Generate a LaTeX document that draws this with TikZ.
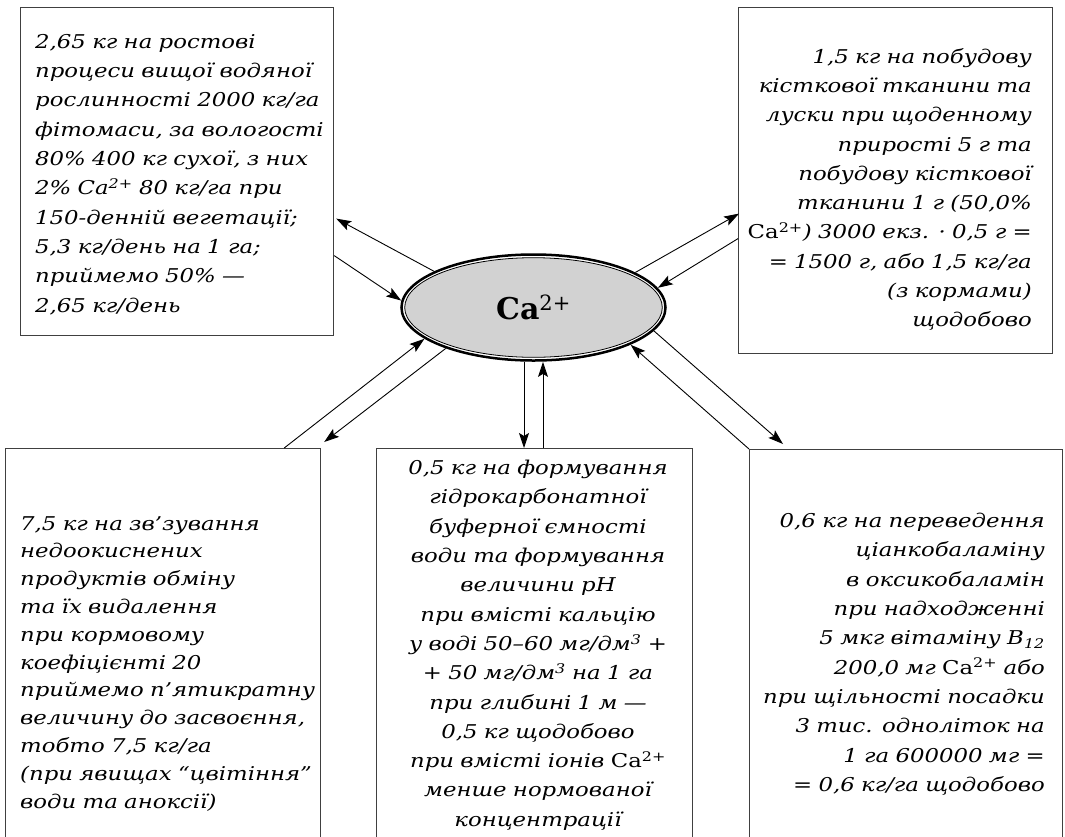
\documentclass[tikz,border=0pt]{standalone}
\usepackage{fontspec}
\setmainfont{DejaVu Serif}
\newfontfamily\boxfont{DejaVu Serif}[FakeStretch=1.2]
\usetikzlibrary{arrows.meta,shapes.geometric,calc}
\tikzset{
  box/.style={draw=black!75, line width=1.2pt, rectangle, inner sep=0pt, anchor=north west},
  txt/.style={inner sep=0pt, text width=330pt, font=\boxfont\itshape\fontsize{19}{29.3}\selectfont},
  arr/.style={-{Stealth[length=15pt,width=10pt,inset=3pt]}, line width=0.9pt},
  ion/.style={ellipse, draw=black, line width=0.8pt, fill=gray!35, inner sep=0pt, outer sep=4.6pt,
    minimum width=257.6pt, minimum height=99.6pt, font=\fontsize{30}{36}\selectfont}
}
\begin{document}
\begin{tikzpicture}[x=1pt,y=-1pt]
\useasboundingbox (0,0) rectangle (1065,836);
% boxes
\node[box, minimum width=313pt, minimum height=328pt] (tl) at (20,7) {};
\node[box, minimum width=314pt, minimum height=346pt] (tr) at (738,7) {};
\node[box, minimum width=315pt, minimum height=420pt] (bl) at (5,448) {};
\node[box, minimum width=316pt, minimum height=420pt] (bm) at (376,448) {};
\node[box, minimum width=313pt, minimum height=420pt] (br) at (749,449) {};
% central ellipse
\coordinate (cac) at (533.5,307.5);
\draw[line width=2.5pt, fill=white] (cac) ellipse [x radius=132, y radius=53];
\node[ion] (ca) at (cac) {\textbf{Ca}\textsuperscript{2+}};
% texts
\node[txt, anchor=north west, align=left] (tltext) at (35,34) {2,65 кг на ростові\\
процеси вищої водяної\\
рослинності 2000 кг/га\\
фітомаси, за вологості\\
80\% 400 кг сухої, з них\\
2\% Ca\textsuperscript{2+} 80 кг/га при\\
150-денній вегетації;\\
5,3 кг/день на 1 га;\\
приймемо 50\% —\\
2,65 кг/день};
\node[txt, anchor=north east, align=right] (trtext) at (1032,48) {1,5 кг на побудову\\
кісткової тканини та\\
луски при щоденному\\
прирості 5 г та\\
побудову кісткової\\
тканини 1 г (50,0\%\\
\textup{Ca\textsuperscript{2+}}) 3000 екз. · 0,5 г =\\
= 1500 г, або 1,5 кг/га\\
(з кормами)\\
щодобово};
\node[txt, anchor=north west, align=left, font=\boxfont\itshape\fontsize{19}{27.8}\selectfont] (bltext) at (20,516) {7,5 кг на зв’зування\\
недоокиснених\\
продуктів обміну\\
та їх видалення\\
при кормовому\\
коефіцієнті 20\\
приймемо п’ятикратну\\
величину до засвоєння,\\
тобто 7,5 кг/га\\
(при явищах “цвітіння”\\
води та аноксії)};
\node[txt, anchor=north, align=center] (bmtext) at (538,460) {0,5 кг на формування\\
гідрокарбонатної\\
буферної ємності\\
води та формування\\
величини pH\\
при вмісті кальцію\\
у воді 50–60 мг/дм\textsuperscript{3} +\\
+ 50 мг/дм\textsuperscript{3} на 1 га\\
при глибині 1 м —\\
0,5 кг щодобово\\
при вмісті іонів \textup{Ca\textsuperscript{2+}}\\
менше нормованої\\
концентрації};
\node[txt, anchor=north east, align=right] (brtext) at (1045,513) {0,6 кг на переведення\\
ціанкобаламіну\\
в оксикобаламін\\
при надходженні\\
5 мкг вітаміну B\textsubscript{12}\\
200,0 мг \textup{Ca\textsuperscript{2+}} або\\
при щільності посадки\\
3 тис. одноліток на\\
1 га 600000 мг =\\
= 0,6 кг/га щодобово};
% connectors
\draw[arr] (ca.160) -- ([xshift=2pt,yshift=-47pt]tl.east);
\draw[arr] ([yshift=-84pt]tl.east) -- (ca.177);
\draw[arr] (ca.19) -- ([xshift=1pt,yshift=-33pt]tr.west);
\draw[arr] ([yshift=-58pt]tr.west) -- (ca.9);
\draw[arr] ([xshift=-37pt]bl.north east) -- (ca.196);
\draw[arr] (ca.205) -- ([xshift=3pt,yshift=6pt]bl.north east);
\draw[arr] ([xshift=-9.5pt]ca.south) -- ([xshift=-9.5pt]ca.south |- bm.north);
\draw[arr] ([xshift=9.5pt]ca.south |- bm.north) -- ([xshift=9.5pt]ca.south);
\draw[arr] (ca.349) -- ([xshift=34pt,yshift=5pt]br.north west);
\draw[arr] (br.north west) -- (ca.339.5);
\end{tikzpicture}
\end{document}
